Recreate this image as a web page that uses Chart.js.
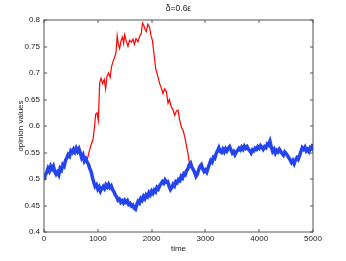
<!DOCTYPE html>
<html>
<head>
<meta charset="utf-8">
<script src="https://cdn.jsdelivr.net/npm/chart.js@4.4.1/dist/chart.umd.min.js"></script>
<style>
  html, body { margin: 0; padding: 0; background: #fff; }
  canvas { display: block; }
</style>
</head>
<body>
<canvas id="grafico" width="346" height="261"></canvas>
<script>
const tituloGrafico = 'δ=0.6ε';
const xTicks = [0, 1000, 2000, 3000, 4000, 5000];
const yTicks = [0.4, 0.45, 0.5, 0.55, 0.6, 0.65, 0.7, 0.75, 0.8];

// grupo majoritario (azul), amostrado a cada 25 passos
const tempoAzul = [
    0, 25, 50, 75, 100, 125, 150, 175, 200, 225, 250, 275, 300, 325, 350, 375, 400, 425, 450, 475,
    500, 525, 550, 575, 600, 625, 650, 675, 700, 725, 750, 775, 800, 825, 850, 875, 900, 925, 950, 975,
    1000, 1025, 1050, 1075, 1100, 1125, 1150, 1175, 1200, 1225, 1250, 1275, 1300, 1325, 1350, 1375, 1400, 1425, 1450, 1475,
    1500, 1525, 1550, 1575, 1600, 1625, 1650, 1675, 1700, 1725, 1750, 1775, 1800, 1825, 1850, 1875, 1900, 1925, 1950, 1975,
    2000, 2025, 2050, 2075, 2100, 2125, 2150, 2175, 2200, 2225, 2250, 2275, 2300, 2325, 2350, 2375, 2400, 2425, 2450, 2475,
    2500, 2525, 2550, 2575, 2600, 2625, 2650, 2675, 2700, 2725, 2750, 2775, 2800, 2825, 2850, 2875, 2900, 2925, 2950, 2975,
    3000, 3025, 3050, 3075, 3100, 3125, 3150, 3175, 3200, 3225, 3250, 3275, 3300, 3325, 3350, 3375, 3400, 3425, 3450, 3475,
    3500, 3525, 3550, 3575, 3600, 3625, 3650, 3675, 3700, 3725, 3750, 3775, 3800, 3825, 3850, 3875, 3900, 3925, 3950, 3975,
    4000, 4025, 4050, 4075, 4100, 4125, 4150, 4175, 4200, 4225, 4250, 4275, 4300, 4325, 4350, 4375, 4400, 4425, 4450, 4475,
    4500, 4525, 4550, 4575, 4600, 4625, 4650, 4675, 4700, 4725, 4750, 4775, 4800, 4825, 4850, 4875, 4900, 4925, 4950, 4975,
    5000
];
const valoresAzul = [
    0.498, 0.508, 0.512, 0.520, 0.515, 0.524, 0.519, 0.524, 0.514, 0.509, 0.513, 0.508, 0.520, 0.517, 0.527, 0.524, 0.535, 0.540, 0.546, 0.543,
    0.553, 0.550, 0.556, 0.551, 0.558, 0.552, 0.557, 0.549, 0.540, 0.545, 0.534, 0.538, 0.532, 0.528, 0.520, 0.514, 0.503, 0.494, 0.486, 0.489,
    0.481, 0.485, 0.477, 0.482, 0.486, 0.482, 0.489, 0.485, 0.490, 0.484, 0.487, 0.480, 0.476, 0.470, 0.466, 0.460, 0.462, 0.456, 0.459, 0.455,
    0.460, 0.456, 0.459, 0.452, 0.454, 0.449, 0.451, 0.445, 0.443, 0.452, 0.458, 0.455, 0.463, 0.460, 0.467, 0.463, 0.470, 0.467, 0.474, 0.470,
    0.477, 0.473, 0.479, 0.476, 0.484, 0.481, 0.487, 0.491, 0.495, 0.492, 0.498, 0.494, 0.495, 0.486, 0.480, 0.484, 0.490, 0.487, 0.495, 0.493,
    0.499, 0.497, 0.505, 0.502, 0.510, 0.508, 0.516, 0.519, 0.527, 0.530, 0.522, 0.518, 0.512, 0.505, 0.509, 0.518, 0.524, 0.527, 0.519, 0.514,
    0.517, 0.513, 0.521, 0.528, 0.535, 0.532, 0.541, 0.539, 0.548, 0.553, 0.559, 0.552, 0.550, 0.556, 0.551, 0.557, 0.553, 0.558, 0.561, 0.555,
    0.549, 0.552, 0.546, 0.551, 0.554, 0.558, 0.555, 0.560, 0.556, 0.562, 0.558, 0.561, 0.556, 0.553, 0.549, 0.555, 0.553, 0.558, 0.556, 0.561,
    0.558, 0.563, 0.560, 0.556, 0.561, 0.559, 0.566, 0.564, 0.571, 0.560, 0.552, 0.556, 0.549, 0.554, 0.551, 0.556, 0.552, 0.548, 0.545, 0.551,
    0.548, 0.544, 0.540, 0.536, 0.531, 0.535, 0.529, 0.536, 0.540, 0.537, 0.544, 0.552, 0.559, 0.556, 0.560, 0.553, 0.556, 0.552, 0.559, 0.557,
    0.566
];

// grupo que se separa (vermelho)
const tempoVermelho = [
    800, 850, 880, 910, 940, 960, 985, 1010, 1035, 1060,
    1090, 1120, 1145, 1170, 1200, 1230, 1255, 1285, 1314, 1340,
    1360, 1380, 1406, 1430, 1460, 1480, 1500, 1530, 1561, 1590,
    1620, 1654, 1680, 1710, 1747, 1780, 1809, 1830, 1853, 1880,
    1902, 1930, 1964, 1990, 2014, 2040, 2076, 2110, 2150, 2180,
    2212, 2240, 2274, 2305, 2330, 2367, 2400, 2429, 2460, 2491,
    2520, 2553, 2590, 2615, 2650, 2677, 2700
];
const valoresVermelho = [
    0.535, 0.556, 0.566, 0.574, 0.600, 0.622, 0.625, 0.610, 0.682, 0.690,
    0.680, 0.688, 0.670, 0.694, 0.700, 0.692, 0.712, 0.722, 0.730, 0.740,
    0.770, 0.755, 0.746, 0.760, 0.768, 0.756, 0.772, 0.760, 0.750, 0.762,
    0.758, 0.764, 0.754, 0.765, 0.759, 0.770, 0.775, 0.794, 0.790, 0.782,
    0.778, 0.792, 0.786, 0.770, 0.762, 0.740, 0.708, 0.696, 0.680, 0.672,
    0.661, 0.670, 0.665, 0.643, 0.650, 0.636, 0.630, 0.620, 0.628, 0.630,
    0.612, 0.598, 0.590, 0.580, 0.562, 0.548, 0.532
];

const fonte = { family: 'Liberation Sans, Arial, sans-serif', size: 8 };

// eixos no estilo matlab: caixa fechada e ticks para dentro
const caixaMatlab = {
    id: 'caixaMatlab',
    afterDraw(chart) {
        const ctx = chart.ctx;
        const a = chart.chartArea;
        const sx = chart.scales.x;
        const sy = chart.scales.y;
        const t = 3;
        ctx.save();
        ctx.strokeStyle = '#555';
        ctx.lineWidth = 1;
        ctx.strokeRect(a.left, a.top, a.right - a.left, a.bottom - a.top);
        ctx.beginPath();
        xTicks.forEach(v => {
            const px = Math.round(sx.getPixelForValue(v));
            ctx.moveTo(px, a.bottom); ctx.lineTo(px, a.bottom - t);
            ctx.moveTo(px, a.top); ctx.lineTo(px, a.top + t);
        });
        yTicks.forEach(v => {
            const py = Math.round(sy.getPixelForValue(v));
            ctx.moveTo(a.left, py); ctx.lineTo(a.left + t, py);
            ctx.moveTo(a.right, py); ctx.lineTo(a.right - t, py);
        });
        ctx.stroke();
        ctx.fillStyle = '#222';
        ctx.font = '8.5px Liberation Sans, Arial, sans-serif';
        ctx.textAlign = 'center';
        ctx.textBaseline = 'middle';
        ctx.fillText(tituloGrafico, (a.left + a.right) / 2, 9);
        ctx.restore();
    }
};

new Chart(document.getElementById('grafico'), {
    type: 'line',
    data: {
        datasets: [{
            label: 'azul',
            data: tempoAzul.map((t, i) => ({ x: t, y: valoresAzul[i] })),
            borderColor: '#2444ee',
            borderWidth: 3.5,
            pointRadius: 0,
            tension: 0
        }, {
            label: 'vermelho',
            data: tempoVermelho.map((t, i) => ({ x: t, y: valoresVermelho[i] })),
            borderColor: '#ff0000',
            borderWidth: 1.2,
            pointRadius: 0,
            tension: 0
        }]
    },
    options: {
        responsive: false,
        animation: false,
        layout: { padding: { top: 20, right: 33, left: 0, bottom: 0 } },
        plugins: {
            legend: { display: false },
            tooltip: { enabled: false }
        },
        scales: {
            x: {
                type: 'linear',
                min: 0,
                max: 5000,
                afterBuildTicks: s => { s.ticks = xTicks.map(v => ({ value: v })); },
                afterFit: s => { s.height = 29; },
                grid: { display: false, drawTicks: false },
                border: { display: false },
                ticks: { color: '#222', font: fonte, padding: 2, maxRotation: 0, callback: v => String(v) },
                title: { display: true, text: 'time', color: '#222', font: fonte, padding: { top: 0, bottom: 7 } }
            },
            y: {
                min: 0.4,
                max: 0.8,
                afterBuildTicks: s => { s.ticks = yTicks.map(v => ({ value: v })); },
                afterFit: s => { s.width = 44; },
                grid: { display: false, drawTicks: false },
                border: { display: false },
                ticks: { color: '#222', font: fonte, padding: 4, callback: v => String(v) },
                title: { display: true, text: 'opinion values', color: '#222', font: fonte, padding: { top: 16, bottom: 0 } }
            }
        }
    },
    plugins: [caixaMatlab]
});
</script>
</body>
</html>
